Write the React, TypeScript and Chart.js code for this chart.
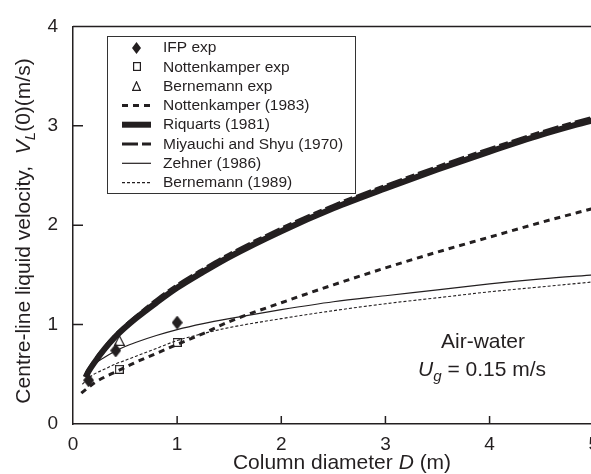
import React, { useEffect, useRef } from 'react';
import { Chart, registerables } from 'chart.js';

Chart.register(...registerables);

// ---------- data ----------
const riquartsD = [0.12, 0.15, 0.2, 0.3, 0.4, 0.5, 0.6, 0.8, 1, 1.25, 1.5, 2, 2.5, 3, 3.5, 4, 4.5, 5];
const riquartsV = [0.47, 0.53, 0.61, 0.75, 0.87, 0.97, 1.06, 1.22, 1.37, 1.53, 1.68, 1.94, 2.17, 2.37, 2.56, 2.74, 2.91, 3.06];

const miyauchiD = [0.12, 0.15, 0.2, 0.3, 0.4, 0.5, 0.6, 0.8, 1, 1.25, 1.5, 2, 2.5, 3, 3.5, 4, 4.5, 5];
const miyauchiV = [0.49, 0.55, 0.63, 0.77, 0.89, 0.99, 1.08, 1.25, 1.4, 1.56, 1.71, 1.97, 2.2, 2.4, 2.59, 2.77, 2.94, 3.09];

const nottenD = [0.08, 0.15, 0.2, 0.3, 0.4, 0.5, 0.6, 0.8, 1, 1.25, 1.5, 2, 2.5, 3, 3.5, 4, 4.5, 5];
const nottenV = [0.31, 0.37, 0.41, 0.47, 0.52, 0.57, 0.62, 0.71, 0.8, 0.91, 1.03, 1.22, 1.4, 1.57, 1.73, 1.88, 2.03, 2.17];

const zehnerD = [0.12, 0.15, 0.2, 0.3, 0.4, 0.5, 0.6, 0.8, 1, 1.25, 1.5, 2, 2.5, 3, 3.5, 4, 4.5, 5];
const zehnerV = [0.52, 0.55, 0.6, 0.67, 0.73, 0.78, 0.82, 0.89, 0.95, 1.01, 1.06, 1.15, 1.23, 1.29, 1.35, 1.41, 1.46, 1.5];

const bernD = [0.09, 0.15, 0.2, 0.3, 0.4, 0.5, 0.6, 0.8, 1, 1.25, 1.5, 2, 2.5, 3, 3.5, 4, 4.5, 5];
const bernV = [0.4, 0.46, 0.5, 0.55, 0.6, 0.64, 0.68, 0.76, 0.84, 0.91, 0.97, 1.06, 1.14, 1.21, 1.27, 1.33, 1.38, 1.43];

const ifpD = [0.15, 0.41, 1.0];
const ifpV = [0.44, 0.74, 1.02];
const nottenExpD = [0.445, 1.0];
const nottenExpV = [0.55, 0.82];
const bernExpD = [0.445];
const bernExpV = [0.84];

const xTicks = [0, 1, 2, 3, 4, 5];
const yTicks = [0, 1, 2, 3, 4];

const FONT = '"Liberation Sans", Arial, Helvetica, sans-serif';
const INK = '#231f20';

function pts(xs: number[], ys: number[]) {
  return xs.map((x, i) => ({ x, y: ys[i] }));
}

function makeMarker(kind: string, w: number, h: number): HTMLCanvasElement {
  const c = document.createElement('canvas');
  c.width = w;
  c.height = h;
  const g = c.getContext('2d')!;
  g.strokeStyle = INK;
  g.fillStyle = INK;
  g.lineWidth = 1.2;
  if (kind === 'diamond') {
    g.beginPath();
    g.moveTo(w / 2, 0);
    g.lineTo(w, h / 2);
    g.lineTo(w / 2, h);
    g.lineTo(0, h / 2);
    g.closePath();
    g.fill();
  } else if (kind === 'square') {
    g.strokeRect(0.6, 0.6, w - 1.2, h - 1.2);
  } else if (kind === 'triangle') {
    g.beginPath();
    g.moveTo(w / 2, 0.8);
    g.lineTo(w - 0.6, h - 0.6);
    g.lineTo(0.6, h - 0.6);
    g.closePath();
    g.stroke();
  }
  return c;
}

type Part = { t: string; italic?: boolean; sub?: boolean };

function drawRich(ctx: CanvasRenderingContext2D, parts: Part[], size: number, cx: number, cy: number) {
  const fontOf = (p: Part) => `${p.italic ? 'italic ' : ''}${p.sub ? size * 0.72 : size}px ${FONT}`;
  let total = 0;
  for (const p of parts) {
    ctx.font = fontOf(p);
    total += ctx.measureText(p.t).width;
  }
  let x = cx - total / 2;
  ctx.textBaseline = 'middle';
  ctx.textAlign = 'left';
  for (const p of parts) {
    ctx.font = fontOf(p);
    ctx.fillText(p.t, x, cy + (p.sub ? size * 0.3 : 0));
    x += ctx.measureText(p.t).width;
  }
}

export default function App() {
  const ref = useRef<HTMLCanvasElement>(null);

  useEffect(() => {
    const canvas = ref.current!;
    const diamond = makeMarker('diamond', 11, 14);
    const square = makeMarker('square', 9, 9);
    const triangle = makeMarker('triangle', 11, 11);
    const lDiamond = makeMarker('diamond', 9, 12);
    const lSquare = makeMarker('square', 8, 9);
    const lTriangle = makeMarker('triangle', 9, 10);

    const legendItems = [
      { label: 'IFP exp', marker: lDiamond },
      { label: 'Nottenkamper exp', marker: lSquare },
      { label: 'Bernemann exp', marker: lTriangle },
      { label: 'Nottenkamper (1983)', width: 3, dash: [6, 5] },
      { label: 'Riquarts (1981)', width: 6, dash: [] },
      { label: 'Miyauchi and Shyu (1970)', width: 3, dash: [16, 4, 9, 4] },
      { label: 'Zehner (1986)', width: 1.2, dash: [] },
      { label: 'Bernemann (1989)', width: 1.1, dash: [3, 2] },
    ];

    const decor = {
      id: 'decor',
      afterDraw(chart: any) {
        const ctx = chart.ctx as CanvasRenderingContext2D;
        const { left, right, top, bottom } = chart.chartArea;
        const xs = chart.scales.x;
        const ys = chart.scales.y;
        ctx.save();
        ctx.strokeStyle = INK;
        ctx.lineWidth = 1.5;
        // top frame
        ctx.beginPath();
        ctx.moveTo(left, top);
        ctx.lineTo(right, top);
        ctx.stroke();
        // inward ticks
        ctx.beginPath();
        for (const v of xTicks.slice(1)) {
          const px = xs.getPixelForValue(v);
          ctx.moveTo(px, bottom);
          ctx.lineTo(px, bottom - 8);
        }
        for (const v of yTicks.slice(1, -1)) {
          const py = ys.getPixelForValue(v);
          ctx.moveTo(left, py);
          ctx.lineTo(left + 10, py);
        }
        ctx.stroke();

        // legend
        const bx = 107, by = 36, bw = 248, bh = 157;
        ctx.fillStyle = '#fff';
        ctx.fillRect(bx, by, bw, bh);
        ctx.lineWidth = 1;
        ctx.strokeStyle = '#333';
        ctx.strokeRect(bx + 0.5, by + 0.5, bw, bh);
        ctx.fillStyle = INK;
        ctx.font = `15.5px ${FONT}`;
        ctx.textBaseline = 'middle';
        ctx.textAlign = 'left';
        legendItems.forEach((it: any, i: number) => {
          const cy = 47.5 + i * 19.3;
          if (it.marker) {
            const m = it.marker as HTMLCanvasElement;
            ctx.drawImage(m, Math.round(136.5 - m.width / 2), Math.round(cy - m.height / 2));
          } else {
            ctx.save();
            ctx.strokeStyle = INK;
            ctx.lineWidth = it.width;
            ctx.setLineDash(it.dash);
            ctx.beginPath();
            ctx.moveTo(122, cy);
            ctx.lineTo(151, cy);
            ctx.stroke();
            ctx.restore();
          }
          ctx.fillText(it.label, 163, cy + 0.5);
        });

        // annotation
        ctx.fillStyle = INK;
        ctx.textAlign = 'center';
        ctx.font = `21px ${FONT}`;
        ctx.fillText('Air-water', 483, 342);
        drawRich(ctx, [
          { t: 'U', italic: true },
          { t: 'g', italic: true, sub: true },
          { t: ' = 0.15 m/s' },
        ], 21, 482, 370);

        // x title
        drawRich(ctx, [
          { t: 'Column diameter ' },
          { t: 'D', italic: true },
          { t: ' (m)' },
        ], 21, 342, 463);

        // y title
        ctx.save();
        ctx.translate(24, 231);
        ctx.rotate(-Math.PI / 2);
        drawRich(ctx, [
          { t: 'Centre-line liquid velocity,  ' },
          { t: 'V', italic: true },
          { t: 'L', italic: true, sub: true },
          { t: '(0)(m/s)' },
        ], 21, 0, 0);
        ctx.restore();
        ctx.restore();
      },
    };

    const lineDs = (label: string, xs: number[], ys: number[], width: number, dash: number[]) => ({
      label,
      data: pts(xs, ys),
      borderColor: INK,
      backgroundColor: INK,
      borderWidth: width,
      borderDash: dash,
      pointRadius: 0,
      fill: false,
      cubicInterpolationMode: 'monotone' as const,
      borderCapStyle: 'butt' as const,
    });

    const chart = new Chart(canvas, {
      type: 'line',
      data: {
        datasets: [
          { label: 'IFP exp', data: pts(ifpD, ifpV), showLine: false, pointStyle: diamond as any, pointRadius: 7, order: 0 },
          { label: 'Nottenkamper exp', data: pts(nottenExpD, nottenExpV), showLine: false, pointStyle: square as any, pointRadius: 5, order: 0 },
          { label: 'Bernemann exp', data: pts(bernExpD, bernExpV), showLine: false, pointStyle: triangle as any, pointRadius: 6, order: 0 },
          { ...lineDs('Miyauchi and Shyu (1970)', miyauchiD, miyauchiV, 3, [16, 4, 9, 4]), order: 1 },
          { ...lineDs('Riquarts (1981)', riquartsD, riquartsV, 6, []), order: 2 },
          { ...lineDs('Nottenkamper (1983)', nottenD, nottenV, 3, [6, 5]), order: 3 },
          { ...lineDs('Zehner (1986)', zehnerD, zehnerV, 1.2, []), order: 4 },
          { ...lineDs('Bernemann (1989)', bernD, bernV, 1.1, [3, 2]), order: 5 },
        ] as any,
      },
      options: {
        responsive: false,
        animation: false,
        devicePixelRatio: 1,
        layout: { padding: { top: 24, right: 7, left: 0, bottom: 0 }, autoPadding: false } as any,
        plugins: { legend: { display: false }, tooltip: { enabled: false } },
        scales: {
          x: {
            type: 'linear',
            min: 0,
            max: 5,
            afterFit: (s: any) => { s.height = 50; },
            afterBuildTicks: (s: any) => { s.ticks = xTicks.map((v) => ({ value: v })); },
            ticks: { font: { size: 19, family: FONT }, color: INK, padding: 9, maxRotation: 0, autoSkip: false },
            grid: { drawOnChartArea: false, drawTicks: false },
            border: { color: INK, width: 1.5 },
          },
          y: {
            type: 'linear',
            min: 0,
            max: 4,
            afterFit: (s: any) => { s.width = 73; },
            afterBuildTicks: (s: any) => { s.ticks = yTicks.map((v) => ({ value: v })); },
            ticks: { font: { size: 19, family: FONT }, color: INK, padding: 15, autoSkip: false },
            grid: { drawOnChartArea: false, drawTicks: false },
            border: { color: INK, width: 1.5 },
          },
        },
      } as any,
      plugins: [decor],
    });
    return () => chart.destroy();
  }, []);

  return (
    <div style={{ position: 'absolute', left: 0, top: 0, width: 591, height: 474, overflow: 'hidden', background: '#fff' }}>
      <canvas ref={ref} width={608} height={474} style={{ display: 'block', width: 608, height: 474 }} />
    </div>
  );
}
